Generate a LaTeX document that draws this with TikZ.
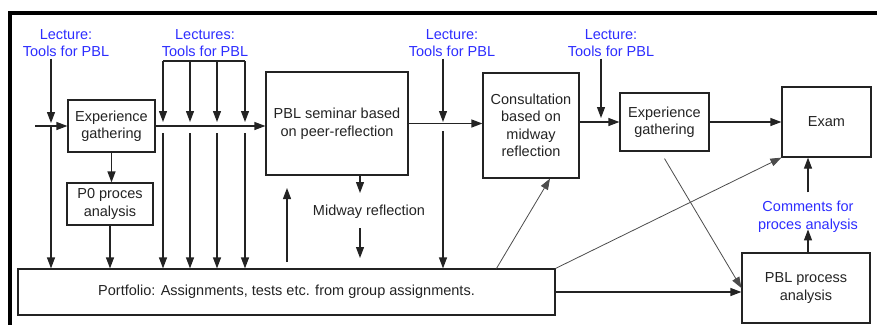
\documentclass[tikz,border=0pt]{standalone}
\usepackage{fontspec}
\setmainfont{Liberation Sans}
\usetikzlibrary{arrows.meta}

\definecolor{lecblue}{RGB}{45,45,255}
\definecolor{ink}{RGB}{35,35,35}
\tikzset{
  box/.style={draw=ink, line width=1.2pt, align=center, text=ink, inner sep=2pt},
  lect/.style={align=center, text=lecblue, inner sep=1.5pt},
  arr/.style={draw=ink, line width=1.2pt, -{Triangle[length=11pt,width=8pt]}},
  thinarr/.style={draw=black!70, line width=0.8pt, -{Triangle[length=11pt,width=8pt]}},
}

\begin{document}
\begin{tikzpicture}[x=1pt,y=-1pt,font=\fontsize{14.5}{17.5}\selectfont]
    \useasboundingbox (0,0) rectangle (877,325);
    % frame
    \draw[line width=4pt] (877,13) -- (10,13) -- (10,325);

    % lectures
    \node[lect] (lec1) at (66,43) {Lecture:\\Tools for PBL};
    \node[lect] (lec2) at (205,43) {Lectures:\\Tools for PBL};
    \node[lect] (lec3) at (452,43) {Lecture:\\Tools for PBL};
    \node[lect] (lec4) at (611,43) {Lecture:\\Tools for PBL};

    % boxes
    \node[box, minimum width=87pt, minimum height=52pt] (exp1) at (111.5,126) {Experience\\gathering};
    \node[box, minimum width=86pt, minimum height=42pt] (p0) at (110,204) {P0 proces\\analysis};
    \node[box, minimum width=142pt, minimum height=103pt] (pbl) at (337,123.5) {PBL seminar based\\on peer-reflection};
    \node[box, minimum width=96pt, minimum height=105pt] (consult) at (531,125.5) {Consultation\\based on\\midway\\reflection};
    \node[box, minimum width=89pt, minimum height=58pt] (exp2) at (664.5,122) {Experience\\gathering};
    \node[box, minimum width=89pt, minimum height=70pt] (exam) at (826.5,122) {Exam};
    \node[box, minimum width=537pt, minimum height=46pt] (port) at (286.5,292) {Portfolio: Assignments, tests etc. from group assignments.};
    \node[box, minimum width=128pt, minimum height=70pt] (pblproc) at (806,288) {PBL process\\analysis};
    \node[text=ink, inner sep=0pt] (mid) at (369,212) {Midway reflection};
    \node[lect, inner sep=0pt] (comments) at (808,217) {Comments for\\proces analysis};

    % junctions
    \coordinate (in) at (35,126);
    \coordinate (l1) at (51,126);
    \coordinate (l3) at (443,125);
    \coordinate (l4) at (601,122);
    \coordinate (b1) at (163,61);
    \coordinate (b2) at (245,61);
    \coordinate (m1) at (360,193);
    \coordinate (m2) at (360,228);
    \coordinate (m3) at (360,258);
    \coordinate (u1) at (287,262);
    \coordinate (u2) at (287,188);

    % main flow
    \draw[arr] (in) -- (exp1);
    \draw[arr] (exp1.east) -- (exp1.east -| pbl.west);
    \draw[arr] (pbl.east) -- (pbl.east -| consult.west);
    \draw[arr] (consult.east |- exp2.west) -- (exp2.west);
    \draw[arr] (exp2.east) -- (exam.west);
    \draw[arr] (exp1.south) -- (exp1.south |- p0.north);
    \draw[arr] (p0.south) -- (p0.south |- port.north);

    % lecture arrows
    \draw[arr, shorten >=3pt] (lec1.south -| l1) -- (l1);
    \draw[arr] (l1) -- (l1 |- port.north);
    \draw[line width=1.2pt, draw=ink] (b1) -- (b2);
    \foreach \x in {163,190,217,245} {
      \coordinate (t\x) at (\x,61);
      \draw[arr, shorten >=4pt] (t\x) -- (t\x |- exp1.east);
      \draw[arr, shorten <=7pt] (t\x |- exp1.east) -- (t\x |- port.north);
    }
    \draw[arr, shorten >=3pt] (lec3.south -| l3) -- (l3);
    \draw[arr, shorten <=6pt] (l3) -- (l3 |- port.north);
    \draw[arr, shorten >=4pt] (lec4.south -| l4) -- (l4);

    % midway reflection
    \draw[arr] (pbl.south -| m1) -- (m1);
    \draw[arr] (m2) -- (m3);
    \draw[arr] (u1) -- (u2);

    % to the end
    \draw[thinarr] ([xshift=210pt]port.north) -- ([xshift=19pt]consult.south);
    \draw[thinarr] (port.north east) -- (exam.south west);
    \draw[thinarr] ([yshift=-7pt]exp2.south) -- (pblproc.west);
    \draw[arr] (port.east) -- (port.east -| pblproc.west);
    \draw[arr] (pblproc.north -| comments) -- ++(0,-23);
    \draw[arr] ([yshift=9pt]comments.north) -- (comments.north |- exam.south);
\end{tikzpicture}
\end{document}
